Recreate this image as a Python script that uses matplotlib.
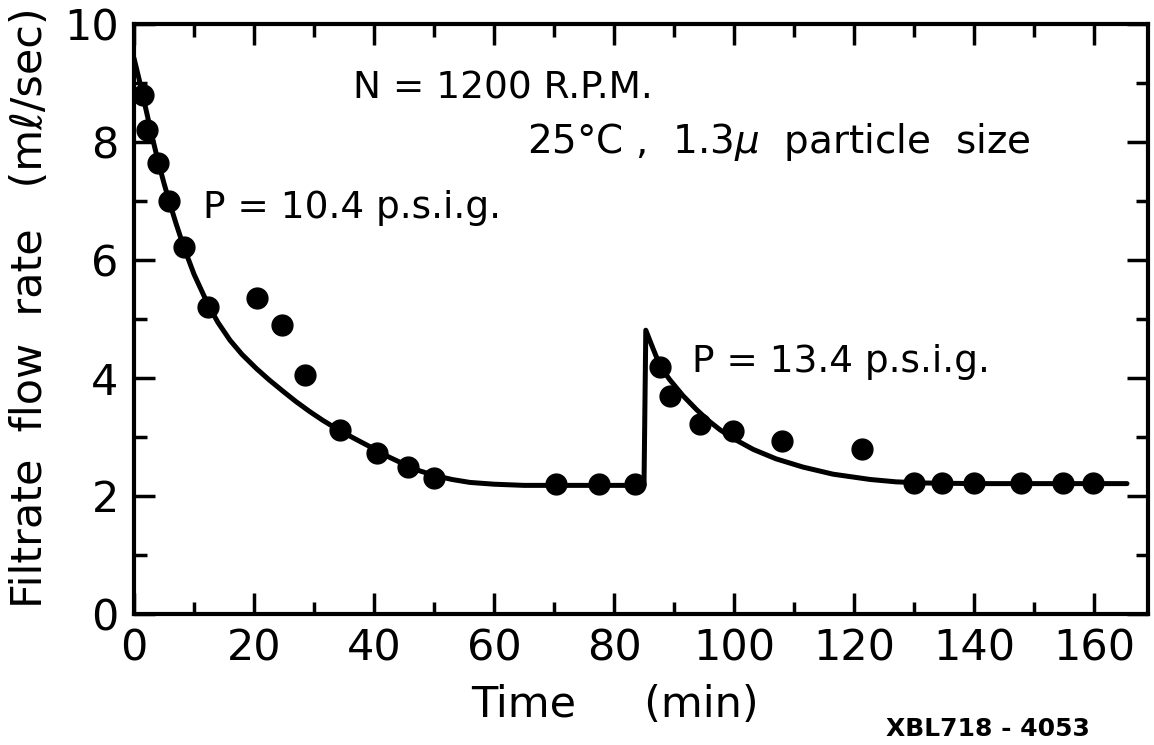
import matplotlib
matplotlib.use("Agg")
import matplotlib.pyplot as plt
from matplotlib.ticker import MultipleLocator

plt.rcParams['font.family'] = ['DejaVu Sans']

# measured data points
time_pts = [1.5, 2.2, 4.0, 5.9, 8.3, 12.3, 20.5, 24.7, 28.5, 34.3, 40.5, 45.7, 50.0,
            70.3, 77.5, 83.5,
            87.7, 89.3, 94.3, 99.8, 108.0, 121.3, 130.0, 134.7, 140.0, 147.8, 154.8, 159.8]
flow_pts = [8.8, 8.21, 7.64, 7.0, 6.22, 5.2, 5.35, 4.9, 4.05, 3.12, 2.73, 2.5, 2.3,
            2.2, 2.2, 2.2,
            4.19, 3.7, 3.22, 3.1, 2.93, 2.8, 2.22, 2.22, 2.22, 2.22, 2.22, 2.22]

# fitted curve
curve_t = [0, 1, 2, 3, 4, 5, 6, 7, 8.3, 10, 12.4, 14, 16, 18, 20.4, 22.5, 24.9, 27, 29.3, 31.5, 34.1,
           37, 40, 42.5, 45, 47.5, 50, 53, 56, 60, 65, 70, 85.0,
           85.3, 86.5, 87.7, 89.3, 91.5, 93.8, 95.7, 97.7, 100.5, 103.2, 107, 111.5, 116.5, 122.7,
           127, 132, 140, 150, 165.5]
curve_q = [9.42, 9.0, 8.55, 8.1, 7.68, 7.3, 6.95, 6.62, 6.22, 5.76, 5.23, 4.94, 4.64, 4.40, 4.16, 3.97, 3.77, 3.6, 3.43, 3.28, 3.12,
           2.96, 2.8, 2.66, 2.54, 2.43, 2.35, 2.28, 2.23, 2.2, 2.18, 2.18, 2.18,
           4.81, 4.5, 4.2, 3.97, 3.7, 3.46, 3.28, 3.12, 2.94, 2.79, 2.63, 2.49, 2.37, 2.28,
           2.24, 2.22, 2.21, 2.21, 2.21]

x_ticks = [0, 20, 40, 60, 80, 100, 120, 140, 160]
y_ticks = [0, 2, 4, 6, 8, 10]

W, H = 1154, 745
fig = plt.figure(figsize=(W / 100, H / 100), dpi=100)
fig.patch.set_facecolor('white')
ax = fig.add_axes([134 / W, 1 - 614 / H, (1148 - 134) / W, (614 - 24) / H])

ax.plot(curve_t, curve_q, color='black', lw=3.6, solid_capstyle='round', solid_joinstyle='round', zorder=2)
ax.plot(time_pts, flow_pts, 'o', color='black', ms=15, zorder=3)

ax.set_xlim(0, 169)
ax.set_ylim(0, 10)
ax.set_xticks(x_ticks)
ax.set_yticks(y_ticks)
ax.xaxis.set_minor_locator(MultipleLocator(10))
ax.yaxis.set_minor_locator(MultipleLocator(1))
ax.tick_params(which='both', direction='in', top=True, right=True, width=2.5, labelsize=31)
ax.tick_params(which='major', length=15)
ax.tick_params(which='minor', length=9)
ax.tick_params(axis='x', which='major', pad=10)
ax.tick_params(axis='y', which='major', pad=11)
for s in ax.spines.values():
    s.set_linewidth(3)

ax.text(36.5, 8.9, "N = 1200 R.P.M.", fontsize=27, va='center', ha='left')
ax.text(65.5, 8.0, "25°C ,  1.3$\\mu$  particle  size", fontsize=28, va='center', ha='left')
ax.text(11.5, 6.88, "P = 10.4 p.s.i.g.", fontsize=27, va='center', ha='left')
ax.text(93.0, 4.27, "P = 13.4 p.s.i.g.", fontsize=27, va='center', ha='left')

fig.text(30 / W, 1 - 308 / H, "Filtrate  flow  rate   (mℓ/sec)", rotation=90,
         fontsize=31, ha='center', va='center')
fig.text(615 / W, 1 - 705 / H, "Time     (min)", fontsize=31, ha='center', va='center')
fig.text(988 / W, 1 - 729 / H, "XBL718 - 4053", fontsize=18, fontweight='bold', ha='center', va='center')

fig.savefig("out.png", dpi=100, facecolor='white')
